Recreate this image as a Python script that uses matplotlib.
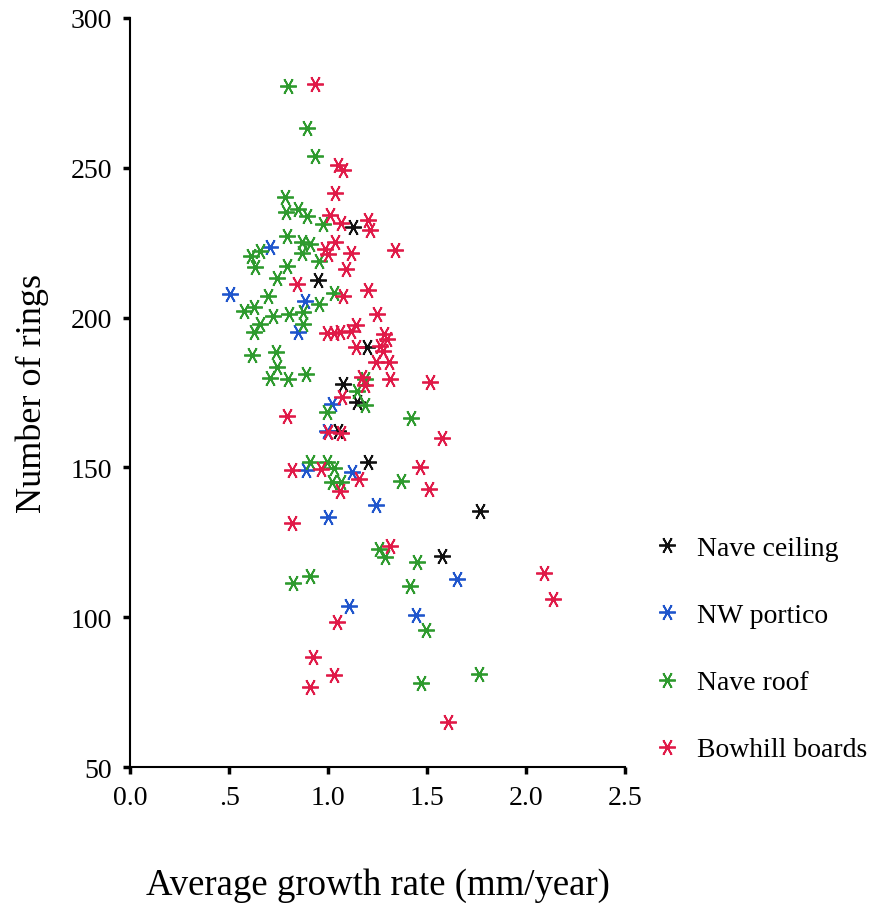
import matplotlib
matplotlib.use("Agg")
import matplotlib.pyplot as plt
from matplotlib.lines import Line2D

plt.rcParams['font.family'] = ['Liberation Serif', 'DejaVu Serif']

# Nave ceiling (black)
ceil_x = [1.125, 0.946, 1.196, 1.073, 1.144, 1.051, 1.201, 1.767, 1.575]
ceil_y = [230.4, 212.5, 190.2, 178.0, 171.7, 162.3, 151.8, 135.5, 120.4]

# NW portico (blue)
port_x = [0.705, 0.503, 0.882, 0.847, 1.017, 0.992, 0.887, 1.120, 1.241, 0.998, 1.651, 1.105, 1.443]
port_y = [223.5, 207.9, 205.6, 195.1, 171.2, 162.3, 149.1, 148.5, 137.4, 133.4, 112.8, 103.7, 100.7]

# Nave roof (green)
roof_x = [0.795, 0.891, 0.933, 0.781, 0.848, 0.786, 0.891, 0.971, 0.791, 0.869,
          0.906, 0.866, 0.655, 0.611, 0.632, 0.952, 0.791, 0.743, 1.027, 0.697,
          0.955, 0.576, 0.624, 0.722, 0.800, 0.874, 0.874, 0.655, 0.623, 0.613,
          0.736, 0.742, 0.705, 0.798, 0.887, 1.186, 1.144, 1.186, 0.992, 1.416,
          0.907, 0.993, 1.029, 1.019, 1.064, 1.368, 1.256, 1.287, 1.448, 0.822,
          0.907, 1.413, 1.494, 1.469, 1.762]
roof_y = [277.4, 263.2, 254.0, 240.4, 236.2, 235.1, 234.0, 231.3, 227.3, 225.1,
          224.7, 221.4, 222.3, 220.4, 216.8, 219.0, 217.2, 213.2, 208.3, 207.1,
          204.4, 202.2, 203.5, 200.5, 201.2, 202.0, 197.9, 197.9, 195.1, 187.4,
          188.4, 183.5, 179.8, 179.5, 181.2, 179.5, 175.6, 170.8, 168.4, 166.4,
          151.8, 151.8, 149.8, 145.1, 145.1, 145.5, 122.8, 120.1, 118.4, 111.4,
          113.8, 110.4, 95.7, 78.0, 81.0]

# Bowhill boards (red)
bow_x = [0.933, 1.051, 1.076, 1.034, 1.009, 1.064, 1.202, 1.211, 1.034, 0.985,
         0.996, 1.115, 1.337, 1.087, 0.840, 1.202, 1.073, 1.246, 0.992, 1.029,
         1.059, 1.117, 1.138, 1.284, 1.295, 1.142, 1.261, 1.278, 1.241, 1.309,
         1.312, 1.514, 1.169, 1.185, 1.068, 0.790, 1.573, 1.000, 1.063, 0.816,
         0.963, 1.059, 1.155, 1.464, 1.509, 0.816, 1.312, 1.044, 0.923, 1.029,
         0.907, 1.605, 2.091, 2.136]
bow_y = [278.0, 250.9, 249.3, 241.5, 234.4, 231.6, 232.6, 229.1, 225.4, 222.8,
         221.2, 221.6, 222.5, 216.3, 211.2, 209.3, 207.2, 201.2, 194.7, 195.0,
         195.2, 195.5, 197.5, 194.5, 192.9, 190.1, 190.6, 188.7, 185.3, 185.1,
         179.5, 178.6, 180.3, 177.5, 173.4, 167.3, 159.7, 161.7, 161.5, 149.1,
         149.5, 142.1, 146.1, 150.1, 142.8, 131.4, 123.8, 98.4, 86.7, 80.7,
         76.7, 65.0, 114.8, 106.1]

labels = ['Nave ceiling', 'NW portico', 'Nave roof', 'Bowhill boards']
colors = ['#111111', '#1f55cc', '#2e9a2e', '#e01a48']
xticks = [0.0, 0.5, 1.0, 1.5, 2.0, 2.5]
xtick_labels = ['0.0', '.5', '1.0', '1.5', '2.0', '2.5']
yticks = [50, 100, 150, 200, 250, 300]

star = (6, 2, 90)  # six-armed asterisk, rotated so one bar is horizontal

fig = plt.figure(figsize=(8.71, 9.04), dpi=100)
ax = fig.add_axes([0.1498, 0.1504, 0.5678, 0.8286])

series = [(ceil_x, ceil_y), (port_x, port_y), (roof_x, roof_y), (bow_x, bow_y)]
for (xs, ys), c in zip(series, colors):
    ax.plot(xs, ys, ls='none', marker=star, ms=12, mew=1.3, color=c)

ax.set_xlim(0, 2.5)
ax.set_ylim(50, 300)
ax.set_xticks(xticks)
ax.set_xticklabels(xtick_labels)
ax.set_yticks(yticks)
for s in ['top', 'right']:
    ax.spines[s].set_visible(False)
for s in ['left', 'bottom']:
    ax.spines[s].set_linewidth(1.5)
ax.tick_params(direction='out', length=5, width=2.5, labelsize=20, pad=8)

ax.set_xlabel('Average growth rate (mm/year)', fontsize=26.5, labelpad=41)
ax.set_ylabel('Number of rings', fontsize=26, labelpad=16)

handles = [Line2D([], [], ls='none', marker=star, ms=12, mew=1.3, color=c) for c in colors]
fig.legend(handles, labels, loc='upper left', bbox_to_anchor=(0.721, 0.434),
           frameon=False, fontsize=20, labelspacing=1.5, handlelength=1.0,
           handletextpad=0.6)

fig.savefig('out.png', dpi=100)
